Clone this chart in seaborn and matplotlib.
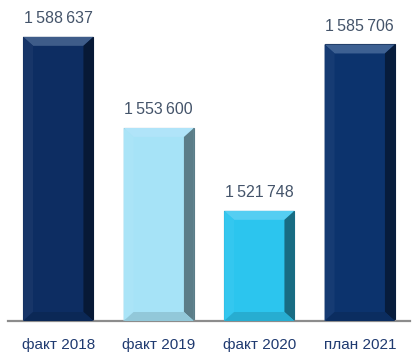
import numpy as np
import pandas as pd
import seaborn as sns
import matplotlib.pyplot as plt
import matplotlib.colors as mcolors
from matplotlib.patches import Polygon

# Data
periods = ["факт 2018", "факт 2019", "факт 2020", "план 2021"]
values = [1588637, 1553600, 1521748, 1585706]
bar_colors = ["#0d2d62", "#a6e3f7", "#2cc5ee", "#0c336d"]

sns.set_theme(style="white")
plt.rcParams["font.family"] = ["Liberation Sans", "DejaVu Sans"]

W, H = 412, 353
fig = plt.figure(figsize=(W / 100, H / 100), dpi=100)
ax = fig.add_axes([8 / W, 32 / H, 402 / W, 321 / H])

df = pd.DataFrame({"period": periods, "value": values})
sns.barplot(data=df, x="period", y="value", hue="period", palette=bar_colors,
            width=0.7, saturation=1, legend=False, ax=ax)

ymin, ymax = 1479400, 1602800
ax.set_ylim(ymin, ymax)
ax.set_xlim(-0.5, len(periods) - 0.5)


def mix(c, other, t):
    a = np.array(mcolors.to_rgb(c))
    b = np.array(mcolors.to_rgb(other))
    return tuple(a * (1 - t) + b * t)


# bevel size in pixels converted to data units
fig.canvas.draw()
bb = ax.get_window_extent()
px_x = (ax.get_xlim()[1] - ax.get_xlim()[0]) / bb.width
px_y = (ymax - ymin) / bb.height
dx, dy = 10 * px_x, 9 * px_y

for p, base in zip(ax.patches, bar_colors):
    x0, w, top = p.get_x(), p.get_width(), p.get_height()
    x1, bot = x0 + w, ymin
    p.set_edgecolor(mix(base, "black", 0.45))
    p.set_linewidth(0.8)
    face = [
        ([(x0, top), (x1, top), (x1 - dx, top - dy), (x0 + dx, top - dy)], mix(base, "#cfe8ff", 0.25)),
        ([(x0, top), (x0 + dx, top - dy), (x0 + dx, bot + dy), (x0, bot)], mix(base, "white", 0.04)),
        ([(x1, top), (x1, bot), (x1 - dx, bot + dy), (x1 - dx, top - dy)], mix(base, "black", 0.45)),
        ([(x0, bot), (x0 + dx, bot + dy), (x1 - dx, bot + dy), (x1, bot)], mix(base, "black", 0.12)),
    ]
    for pts, col in face:
        ax.add_patch(Polygon(pts, closed=True, facecolor=col, edgecolor="none", zorder=3))
    ax.annotate(f"{int(top):,}".replace(",", "\u2009"), (x0 + w / 2, top),
                xytext=(0, 10), textcoords="offset points", ha="center", va="baseline",
                fontsize=11.5, color="#44546a",
                family=["Liberation Sans", "DejaVu Sans"])

# axes styling
for s in ["left", "right", "top"]:
    ax.spines[s].set_visible(False)
ax.spines["bottom"].set_color("#8c8c8c")
ax.spines["bottom"].set_linewidth(1.6)
ax.set_yticks([])
ax.set_xlabel("")
ax.set_ylabel("")
ax.set_xticks(range(len(periods)), periods)
ax.tick_params(axis="x", which="major", length=0, pad=12.5, labelsize=11, labelcolor="#1f3a70")
ax.set_xticks(np.arange(-0.5, len(periods)), minor=True)
ax.tick_params(axis="x", which="minor", length=4, width=1.6, color="#8c8c8c", direction="out")

fig.savefig("out.png", dpi=100)
